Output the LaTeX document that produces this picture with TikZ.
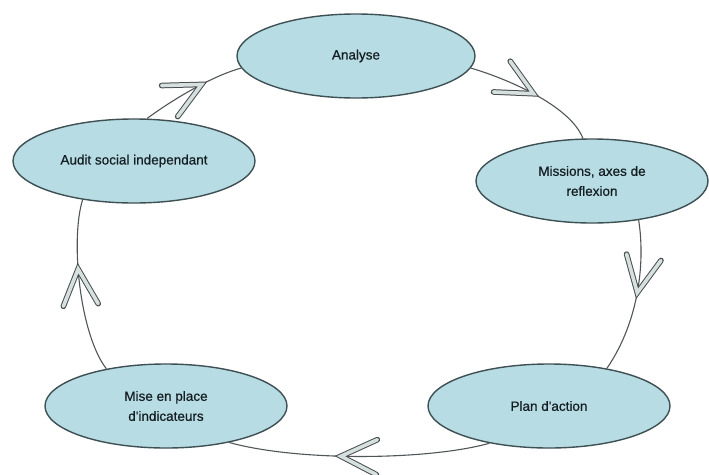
\documentclass[tikz,border=0pt]{standalone}
\usepackage{fontspec}
\setmainfont{Liberation Sans}
\newfontfamily\phasefont{Liberation Sans}[FakeBold=0.6]
\usetikzlibrary{shapes.geometric,decorations.markings}
\definecolor{phasefill}{RGB}{183,220,227}
\definecolor{phaseedge}{RGB}{62,80,84}
\definecolor{flowcol}{RGB}{80,86,88}
\definecolor{chevin}{RGB}{214,224,222}
\definecolor{labelcol}{RGB}{20,30,34}

\tikzset{
  phase/.style={ellipse, draw=phaseedge, line width=1.4pt, fill=phasefill,
    inner sep=0pt, minimum width=#1, minimum height=84pt,
    font=\phasefont\fontsize{13.5}{20}\selectfont, text=labelcol, align=center},
  chevron/.style={draw=flowcol!90!black, line width=1pt, double=chevin,
    double distance=3.6pt, line join=miter, miter limit=10, line cap=round},
  flow/.style={draw=flowcol, line width=1.1pt, postaction={decorate},
    decoration={markings, mark=at position #1 with
      {\draw[chevron] (-36,17.5) -- (0,0) -- (-36,-17.5);}}},
}

\begin{document}
\begin{tikzpicture}[x=1pt,y=1pt]
  \fill[white] (0,0) rectangle (709,-474);
  \useasboundingbox (0,0) rectangle (709,-474);

  % the five stages of the cycle
  \node[phase=238pt] (an) at (356,-56)  {Analyse};
  \node[phase=232pt] (mi) at (592,-181) {Missions, axes de\\reflexion};
  \node[phase=242pt] (pl) at (549,-406) {Plan d'action};
  \node[phase=242pt] (mp) at (166,-406) {Mise en place\\d'indicateurs};
  \node[phase=242pt] (au) at (134,-161) {Audit social independant};

  % clockwise links with open chevrons
  \draw[flow=0.6]  (au.73)   .. controls (172,-100) and (212,-76)  .. (an.186);
  \draw[flow=0.5]  (an.-6)   .. controls (505,-78)  and (570,-105) .. (mi.102);
  \draw[flow=0.47] (mi.-40)  .. controls (645,-260) and (640,-320) .. (pl.33);
  \draw[flow=0.57] (pl.-148) .. controls (430,-460) and (300,-462) .. (mp.-30);
  \draw[flow=0.6]  (mp.148)  .. controls (80,-335)  and (70,-240)  .. (au.-143);
\end{tikzpicture}
\end{document}
